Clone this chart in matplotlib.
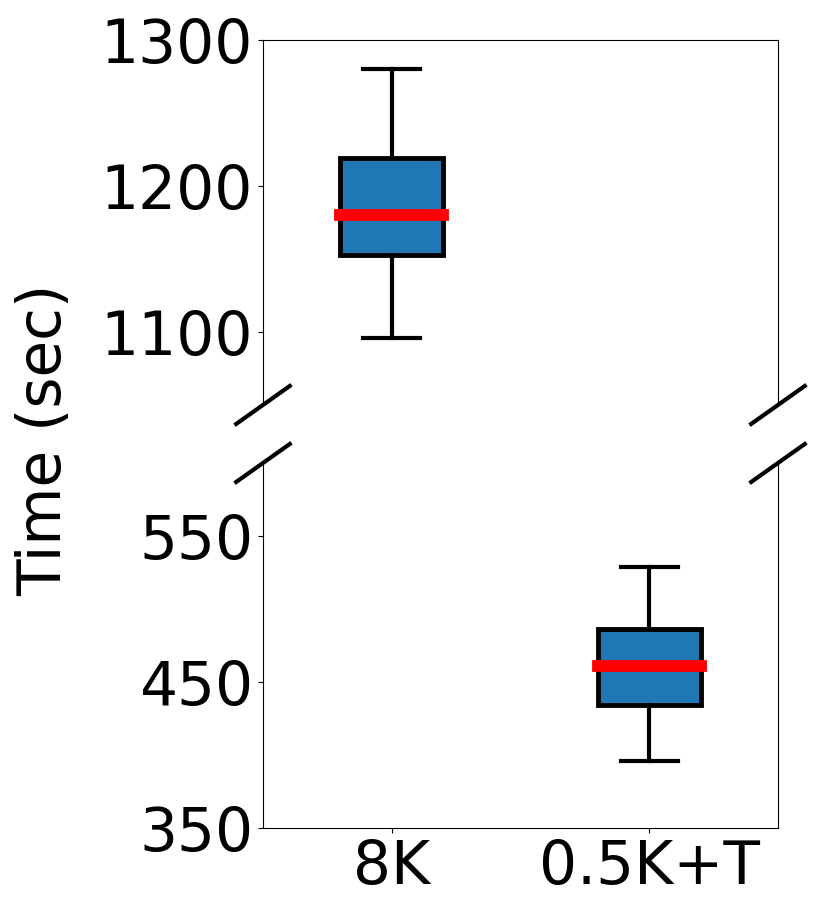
import matplotlib
matplotlib.use("Agg")
import matplotlib.pyplot as plt

labels = ["8K", "0.5K+T"]
whislo = [1096, 396]
q1 = [1153, 434]
med = [1180, 461]
q3 = [1219, 486]
whishi = [1280, 529]

top_ylim = (1050, 1300)
bottom_ylim = (350, 600)
top_ticks = [1100, 1200, 1300]
bottom_ticks = [350, 450, 550]

stats = [
    {"label": lab, "whislo": lo, "q1": a, "med": m, "q3": b, "whishi": hi, "fliers": []}
    for lab, lo, a, m, b, hi in zip(labels, whislo, q1, med, q3, whishi)
]

fig = plt.figure(figsize=(8.21, 9.21), dpi=100)
ax_top = fig.add_axes([0.3203, 0.5603, 0.6273, 0.3963])
ax_bot = fig.add_axes([0.3203, 0.1010, 0.6273, 0.3963])

for ax in (ax_top, ax_bot):
    ax.bxp(
        stats,
        positions=[1, 2],
        widths=0.4,
        capwidths=0.22,
        patch_artist=True,
        showfliers=False,
        boxprops=dict(facecolor="#1f77b4", edgecolor="black", linewidth=3.5),
        medianprops=dict(color="red", linewidth=8.5, solid_capstyle="projecting"),
        whiskerprops=dict(color="black", linewidth=3),
        capprops=dict(color="black", linewidth=3),
    )
    ax.set_xlim(0.5, 2.5)
    ax.tick_params(axis="both", labelsize=43)

ax_top.set_ylim(*top_ylim)
ax_top.set_yticks(top_ticks)
ax_bot.set_ylim(*bottom_ylim)
ax_bot.set_yticks(bottom_ticks)

ax_top.spines["bottom"].set_visible(False)
ax_bot.spines["top"].set_visible(False)
ax_top.tick_params(axis="x", bottom=False, labelbottom=False)
ax_bot.set_xticks([1, 2])
ax_bot.set_xticklabels(labels)

# break marks on the corners
dx, dy = 0.052, 0.052
kw = dict(color="black", linewidth=3, clip_on=False)
for ax, y0 in ((ax_top, 0), (ax_bot, 1)):
    for x0 in (0, 1):
        ax.plot([x0 - dx, x0 + dx], [y0 - dy, y0 + dy], transform=ax.transAxes, **kw)

fig.text(0.054, 0.522, "Time (sec)", rotation=90, fontsize=43, va="center", ha="center")

fig.savefig("out.png", dpi=100)
